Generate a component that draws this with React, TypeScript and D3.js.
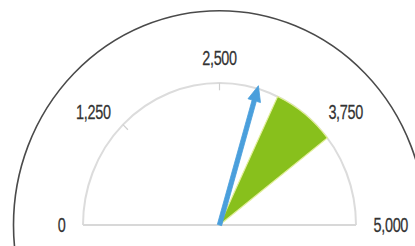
import React from 'react';
import * as d3 from 'd3';

// gauge values
const tickValues = [0, 1250, 2500, 3750, 5000];
const tickLabels = ['0', '1,250', '2,500', '3,750', '5,000'];
const bandRange = [3200, 3950];
const needleValue = 2950;
const gaugeDomain = [0, 5000];

const W = 415;
const H = 246;

const App: React.FC = () => {
  const cx = 219.5;
  const cy = 225;
  const r = 136.5;
  const outerR = 206;
  const labelR = 154;

  // 0 at left, max at right (d3.arc angle convention: 0 = 12 o'clock)
  const angle = d3.scaleLinear().domain(gaugeDomain).range([-Math.PI / 2, Math.PI / 2]);
  const pt = (v: number, rad: number): [number, number] => [
    rad * Math.sin(angle(v)),
    -rad * Math.cos(angle(v)),
  ];

  const scaleArc = d3.arc<any>()({
    innerRadius: r,
    outerRadius: r,
    startAngle: angle(gaugeDomain[0]),
    endAngle: angle(gaugeDomain[1]),
  } as any);

  const band = d3.arc<any>()({
    innerRadius: 0,
    outerRadius: r,
    startAngle: angle(bandRange[0]),
    endAngle: angle(bandRange[1]),
  } as any);

  // needle as arrow
  const a = angle(needleValue);
  const ux = Math.sin(a);
  const uy = -Math.cos(a);
  const px = -uy;
  const py = ux;
  const tipR = r + 3;
  const headLen = 15;
  const headW = 6.5;
  const shaftW = 2.2;
  const baseR = tipR - headLen;
  const needle = [
    [-px * shaftW, -py * shaftW],
    [ux * baseR - px * shaftW, uy * baseR - py * shaftW],
    [ux * baseR - px * headW, uy * baseR - py * headW],
    [ux * tipR, uy * tipR],
    [ux * baseR + px * headW, uy * baseR + py * headW],
    [ux * baseR + px * shaftW, uy * baseR + py * shaftW],
    [px * shaftW, py * shaftW],
  ];
  const needlePath = d3.line()(needle as [number, number][]) + 'Z';

  const outerCircle = d3.arc<any>()({
    innerRadius: outerR,
    outerRadius: outerR,
    startAngle: 0,
    endAngle: Math.PI * 2,
  } as any);

  return (
    <div style={{ position: 'fixed', left: 0, top: 0 }}>
      <svg width={W} height={H} style={{ display: 'block', background: '#fff' }}>
        <g transform={`translate(${cx},${cy}) scale(1,1.04)`}>
          <path d={outerCircle || ''} fill="none" stroke="#4a4a4a" strokeWidth={1.6} />

          {/* scale arc and baseline */}
          <path d={scaleArc || ''} fill="none" stroke="#dcdcdc" strokeWidth={2} />
          <line x1={-r} x2={r} y1={0} y2={0} stroke="#d8d8d8" strokeWidth={2} />

          {/* inner ticks */}
          {tickValues.slice(1, -1).map((v) => {
            const [x1, y1] = pt(v, r);
            const [x2, y2] = pt(v, r - 7);
            return <line key={v} x1={x1} y1={y1} x2={x2} y2={y2} stroke="#cfcfcf" strokeWidth={1.2} />;
          })}

          {/* target band */}
          <path d={band || ''} fill="#88c01c" stroke="#e2ef9a" strokeWidth={1.2} />

          {/* needle */}
          <path d={needlePath} fill="#4a9fdc" stroke="#4a9fdc" strokeWidth={0.8} strokeLinejoin="round" />

          {/* labels, placed outside the scale arc */}
          {tickValues.map((v, i) => {
            const [x, y] = pt(v, labelR);
            const s = Math.sin(angle(v));
            const anchor = s > 0.01 ? 'start' : s < -0.01 ? 'end' : 'middle';
            const top = Math.cos(angle(v)) > 0.99;
            return (
              <g key={v} transform={`translate(${x},${y}) scale(0.74,1)`}>
                <text
                  dy={top ? 0 : '0.36em'}
                  textAnchor={anchor}
                  fontFamily="'Liberation Sans', Arial, sans-serif"
                  fontSize={19.5}
                  fill="#333"
                  stroke="#333"
                  strokeWidth={0.25}
                  letterSpacing={-0.4}
                >
                  {tickLabels[i]}
                </text>
              </g>
            );
          })}
        </g>
      </svg>
    </div>
  );
};

export default App;
